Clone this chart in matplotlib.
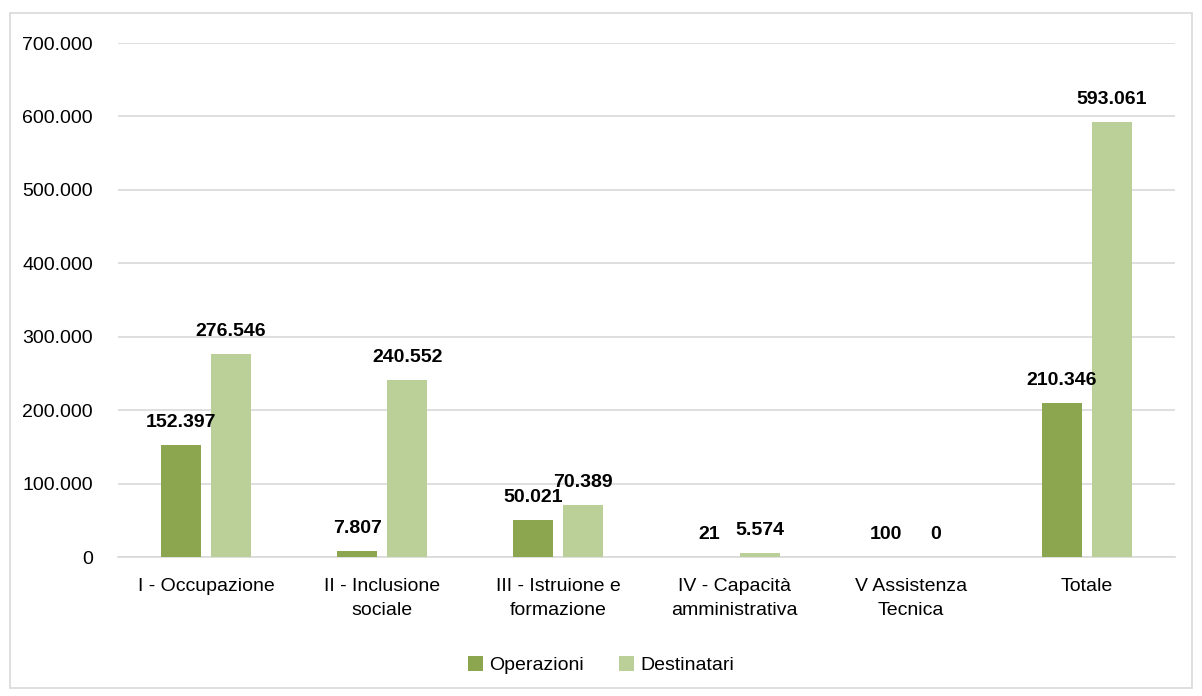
import matplotlib
matplotlib.use("Agg")
import matplotlib.pyplot as plt
from matplotlib.patches import Rectangle
from matplotlib.ticker import FuncFormatter
import numpy as np

plt.rcParams['font.family'] = ['Liberation Sans Narrow', 'Liberation Sans', 'DejaVu Sans']

categories = ["I - Occupazione", "II - Inclusione\nsociale", "III - Istruione e\nformazione",
              "IV - Capacità\namministrativa", "V Assistenza\nTecnica", "Totale"]
operazioni = [152397, 7807, 50021, 21, 100, 210346]
destinatari = [276546, 240552, 70389, 5574, 0, 593061]
yticks = [0, 100000, 200000, 300000, 400000, 500000, 600000, 700000]

c_op = "#8BA64E"
c_de = "#BBD098"

fig = plt.figure(figsize=(12.02, 6.96), dpi=100)
fig.patches.append(Rectangle((10/1202, 8/696), 1182/1202, 675/696, transform=fig.transFigure,
                             fill=False, edgecolor="#D9D9D9", linewidth=1.2))
ax = fig.add_axes([118/1202, 1-557/696, (1175-118)/1202, (557-43)/696])

x = np.arange(len(categories))
w = 0.227
off = 0.142
b1 = ax.bar(x - off, operazioni, w, color=c_op, label="Operazioni", zorder=3)
b2 = ax.bar(x + off, destinatari, w, color=c_de, label="Destinatari", zorder=3)

def fmt(v):
    return f"{int(v):,}".replace(",", ".")

for bars, vals in ((b1, operazioni), (b2, destinatari)):
    for r, v in zip(bars, vals):
        ax.annotate(fmt(v), (r.get_x() + r.get_width()/2, v), xytext=(0, 10),
                    textcoords="offset points", ha="center", va="bottom",
                    fontsize=14, fontweight="bold", color="#000000")

ax.set_xlim(-0.5, len(categories) - 0.5)
ax.set_ylim(0, 700000)
ax.set_yticks(yticks)
ax.yaxis.set_major_formatter(FuncFormatter(lambda v, p: fmt(v)))
ax.set_xticks(x)
ax.set_xticklabels(categories, fontsize=14, linespacing=1.55)
ax.tick_params(axis='y', labelsize=14, length=0, pad=18)
ax.tick_params(axis='x', length=0, pad=15)
ax.grid(axis='y', color="#D9D9D9", linewidth=1.2, zorder=0)
for s in ("top", "right", "left"):
    ax.spines[s].set_visible(False)
ax.spines["bottom"].set_color("#D9D9D9")
ax.spines["bottom"].set_linewidth(1.2)

fig.legend(loc="center", bbox_to_anchor=(0.5, 1-665/696), ncol=2, frameon=False,
           fontsize=14, handlelength=0.8, handleheight=0.8, handletextpad=0.3, columnspacing=1.8)

fig.savefig("out.png", dpi=100)
